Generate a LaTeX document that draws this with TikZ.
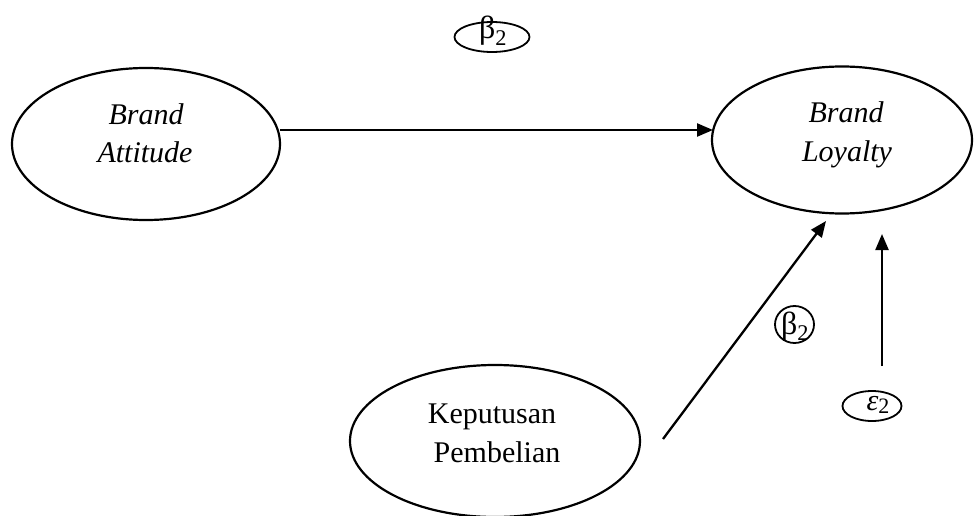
\documentclass[tikz,border=0pt]{standalone}
\usepackage{fontspec}
\setmainfont{Liberation Serif}
\usetikzlibrary{shapes.geometric,arrows.meta}
\begin{document}
\begin{tikzpicture}[x=1pt,y=-1pt,
  bigell/.style={draw,ellipse,line width=2.2pt,inner sep=0pt},
  txt/.style={anchor=base,inner sep=0pt,font=\fontsize{30}{36}\selectfont},
  smallell/.style={draw,ellipse,line width=1.8pt,inner sep=0pt},
  sym/.style={inner sep=0pt,font=\fontsize{32}{36}\selectfont},
  conn/.style={line width=2.3pt,-{Triangle[length=16pt,width=13pt]}}]
\useasboundingbox (0,0) rectangle (975,516);
% large ellipses
\node[bigell,minimum width=268pt,minimum height=152pt] (ba) at (146,144) {};
\node[bigell,minimum width=260pt,minimum height=147pt] (bl) at (842,140) {};
\node[bigell,minimum width=290pt,minimum height=152pt] (kp) at (495,441) {};
\node[txt] (ba1) at (146,125) {\itshape Brand};
\node[txt] (ba2) at (145,163) {\itshape Attitude};
\node[txt] (bl1) at (846,123) {\itshape Brand};
\node[txt] (bl2) at (847,162) {\itshape Loyalty};
\node[txt] (kp1) at (492,423) {Keputusan};
\node[txt] (kp2) at (497,462) {Pembelian};
% small ellipses
\node[smallell,minimum width=75pt,minimum height=30pt] (b1) at (492,37) {};
\node[sym,anchor=base] (b1t) at (493,39) {β\textsubscript{2}};
\node[smallell,minimum width=39pt,minimum height=37pt] (b2) at (794.5,324.5) {};
\node[sym,anchor=base] (b2t) at (795,334) {β\textsubscript{2}};
\node[smallell,minimum width=59pt,minimum height=30pt] (e2) at (872,406) {};
\node[sym,anchor=base,font=\fontsize{30}{34}\selectfont] (e2t) at (878,410) {\itshape ε\raisebox{-3pt}{\upshape\fontsize{22}{24}\selectfont 2}};
% connectors
\coordinate (a1s) at (280,130);
\coordinate (a1e) at (713,130);
\coordinate (a2s) at (663,439);
\coordinate (a2e) at (826,221);
\coordinate (a3s) at (882,366);
\coordinate (a3e) at (882,234);
\draw[conn] (a1s) -- (a1e);
\draw[conn] (a2s) -- (a2e);
\draw[conn] (a3s) -- (a3e);
\end{tikzpicture}
\end{document}
